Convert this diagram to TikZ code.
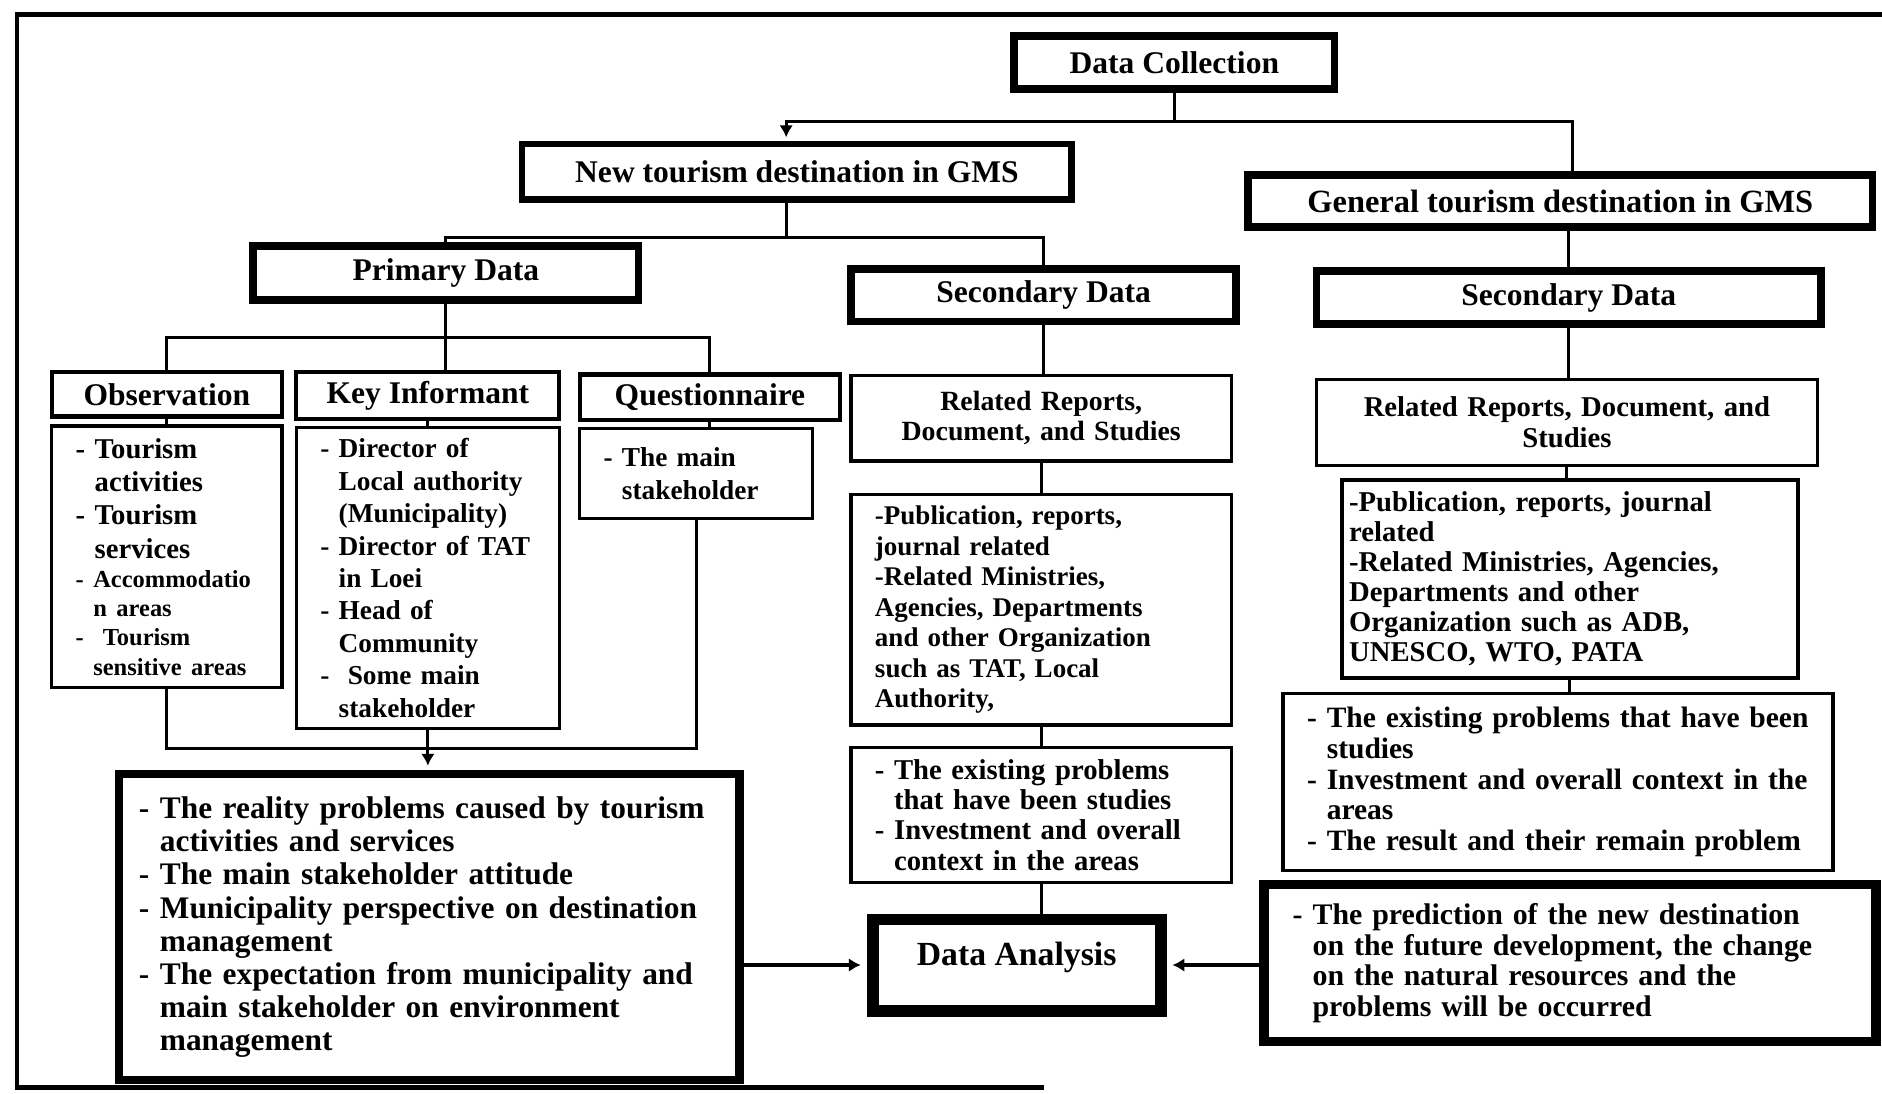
\documentclass[tikz,border=0pt]{standalone}
\usepackage{fontspec}
\setmainfont{Liberation Serif}
\usetikzlibrary{arrows.meta}

\tikzset{
  hbox/.style={draw, line width=4.5pt, font=\fontsize{18.7}{22}\selectfont\bfseries, inner sep=0pt},
  sbox/.style={draw, line width=2.4pt, font=\fontsize{18.7}{22}\selectfont\bfseries, inner sep=0pt},
  tbox/.style={draw, line width=2pt, align=left, inner xsep=0.5cm, inner ysep=0pt},
  conn/.style={line width=1.8pt},
  arr/.style={conn, -{Latex[length=7pt, width=8pt]}},
}

\begin{document}
\begin{tikzpicture}[y=-1cm]
	\useasboundingbox (0,0) rectangle (39.2,22.775);
	
	% moldura
	\draw[line width=2.5pt] (39.2,0.3) -- (0.36,0.3) -- (0.36,22.65) -- (21.75,22.65);
	
	% nivel superior
	\node[hbox, minimum width=6.675cm, minimum height=1.1cm] (dc) at (24.46,1.30) {Data Collection};
	\node[hbox, line width=4pt, minimum width=11.45cm, minimum height=1.15cm] (newd) at (16.6,3.575) {New tourism destination in GMS};
	\node[hbox, font=\fontsize{19.2}{22}\selectfont\bfseries, minimum width=13cm, minimum height=1.075cm] (gend) at (32.5,4.1875) {General tourism destination in GMS};
	
	% dados primarios e secundarios
	\node[hbox, minimum width=8.025cm, minimum height=1.125cm] (prim) at (9.2875,5.6875) {Primary Data};
	\node[hbox, minimum width=8.025cm, minimum height=1.1cm] (secm) at (21.7375,6.15) {Secondary Data};
	\node[hbox, minimum width=10.5cm, minimum height=1.1cm] (secr) at (32.675,6.2) {Secondary Data};
	
	% metodos
	\node[sbox, minimum width=4.8cm, minimum height=0.925cm] (obsh) at (3.475,8.2125) {Observation};
	\node[sbox, minimum width=5.475cm, minimum height=0.975cm] (keyh) at (8.9125,8.2375) {Key Informant};
	\node[sbox, minimum width=5.425cm, minimum height=0.95cm] (queh) at (14.7875,8.275) {Questionnaire};
	
	\node[tbox, font=\fontsize{17}{19.7}\selectfont\bfseries, text width=3.8cm, minimum height=5.45cm] (obsc) at (3.475,11.6)
	{- Tourism\\ \phantom{- }activities\\ - Tourism\\ \phantom{- }services\\[-2.2pt]
	 {\fontsize{14.5}{17}\selectfont - Accommodatio}\\[-2.6pt]
	 {\fontsize{14.5}{17}\selectfont \phantom{- }n areas}\\[-2.4pt]
	 {\fontsize{14.5}{17}\selectfont -\ \ Tourism}\\[-2.4pt]
	 {\fontsize{14.5}{17}\selectfont \phantom{- }sensitive areas}};
	\node[tbox, font=\fontsize{16.2}{19.2}\selectfont\bfseries, text width=4.475cm, minimum height=6.275cm] (keyc) at (8.9125,12.0375)
	{- Director of\\ \phantom{- }Local authority\\ \phantom{- }(Municipality)\\ - Director of TAT\\ \phantom{- }in Loei\\ - Head of\\ \phantom{- }Community\\ -\ \ Some main\\ \phantom{- }stakeholder};
	\node[tbox, font=\fontsize{16.2}{19.2}\selectfont\bfseries, text width=3.85cm, minimum height=1.875cm] (quec) at (14.5,9.8625)
	{- The main\\ \phantom{- }stakeholder};
	
	\node[tbox, line width=5pt, font=\fontsize{18.6}{19.7}\selectfont\bfseries, inner xsep=0.42cm, text width=12.085cm, minimum height=6.375cm] (bigl) at (8.9375,19.3125)
	{- The reality problems caused by tourism\\ \phantom{- }activities and services\\ - The main stakeholder attitude\\ - Municipality perspective on destination\\ \phantom{- }management\\ - The expectation from municipality and\\ \phantom{- }main stakeholder on environment\\ \phantom{- }management};
	
	% coluna do meio
	\node[tbox, align=center, font=\fontsize{16.5}{17.8}\selectfont\bfseries, text width=6.925cm, minimum height=1.775cm] (relm) at (21.6875,8.7125)
	{Related Reports,\\ Document, and Studies};
	\node[tbox, font=\fontsize{16}{18.1}\selectfont\bfseries, text width=6.925cm, minimum height=4.8cm] (pubm) at (21.6875,12.7)
	{-Publication, reports,\\ journal related\\ -Related Ministries,\\ Agencies, Departments\\ and other Organization\\ such as TAT, Local\\ Authority,};
	\node[tbox, font=\fontsize{17}{18}\selectfont\bfseries, text width=6.925cm, minimum height=2.8cm] (exim) at (21.6875,16.975)
	{- The existing problems\\ \phantom{- }that have been studies\\ - Investment and overall\\ \phantom{- }context in the areas};
	\node[draw, line width=7pt, font=\fontsize{20}{22}\selectfont\bfseries, minimum width=6cm, minimum height=1.9cm, text height=0.5cm, text depth=0.5cm] (dana) at (21.175,20.1) {Data Analysis};
	
	% coluna da direita
	\node[tbox, align=center, font=\fontsize{17}{18.5}\selectfont\bfseries, text width=9.425cm, minimum height=1.8cm] (relr) at (32.6375,8.8)
	{Related Reports, Document, and\\ Studies};
	\node[tbox, inner xsep=0.15cm, font=\fontsize{17}{17.8}\selectfont\bfseries, text width=9.2cm, minimum height=4.125cm] (pubr) at (32.7,12.0625)
	{-Publication, reports, journal\\ related\\ -Related Ministries, Agencies,\\ Departments and other\\ Organization such as ADB,\\ UNESCO, WTO, PATA};
	\node[tbox, font=\fontsize{17.5}{18.1}\selectfont\bfseries, text width=10.45cm, minimum height=3.675cm] (exir) at (32.45,16.2875)
	{- The existing problems that have been\\ \phantom{- }studies\\ - Investment and overall context in the\\ \phantom{- }areas\\ - The result and their remain problem};
	\node[tbox, line width=5.5pt, inner xsep=0.6cm, font=\fontsize{17.7}{18}\selectfont\bfseries, text width=11.55cm, minimum height=3.275cm] (pred) at (32.7,20.0625)
	{- The prediction of the new destination\\ \phantom{- }on the future development, the change\\ \phantom{- }on the natural resources and the\\ \phantom{- }problems will be occurred};
	
	% ligacoes
	\draw[conn] (dc.south) -- ++(0,0.6) coordinate (dcs);
	\draw[arr, shorten >=2pt] (dcs) -| ([xshift=-0.225cm]newd.north);
	\draw[conn] (dcs) -| ([xshift=0.25cm]gend.north);
	\draw[conn] ([xshift=-0.225cm]newd.south) -- ++(0,0.725) coordinate (nds);
	\draw[conn] (prim.north) |- (nds) -| (secm.north);
	\draw[conn] (secr.north) -- (secr.north |- gend.south);
	
	\draw[conn] (prim.south) -- ++(0,0.7) coordinate (ps);
	\draw[conn] (obsh.north) |- (ps) -| (queh.north);
	\draw[conn] (ps) -- (ps |- keyh.north);
	\draw[conn] (obsh) -- (obsc);
	\draw[conn] (keyh) -- (keyc);
	\draw[conn] (queh.south) -- (queh.south |- quec.north);
	\draw[conn] (obsc.south) -- ++(0,1.225) coordinate (oj) -| (quec.south);
	\draw[arr, shorten >=2.5pt] (keyc.south) -- (keyc.south |- bigl.north);
	
	\foreach \a/\b in {secm/relm, relm/pubm, pubm/exim, exim/dana, secr/relr, relr/pubr, pubr/exir}
		\draw[conn] (\a.south) -- (\a.south |- \b.north);
	
	\draw[arr, shorten >=3.5pt] (bigl.east |- dana.west) -- (dana.west);
	\draw[arr, shorten >=3.5pt] (pred.west |- dana.east) -- (dana.east);
\end{tikzpicture}
\end{document}
